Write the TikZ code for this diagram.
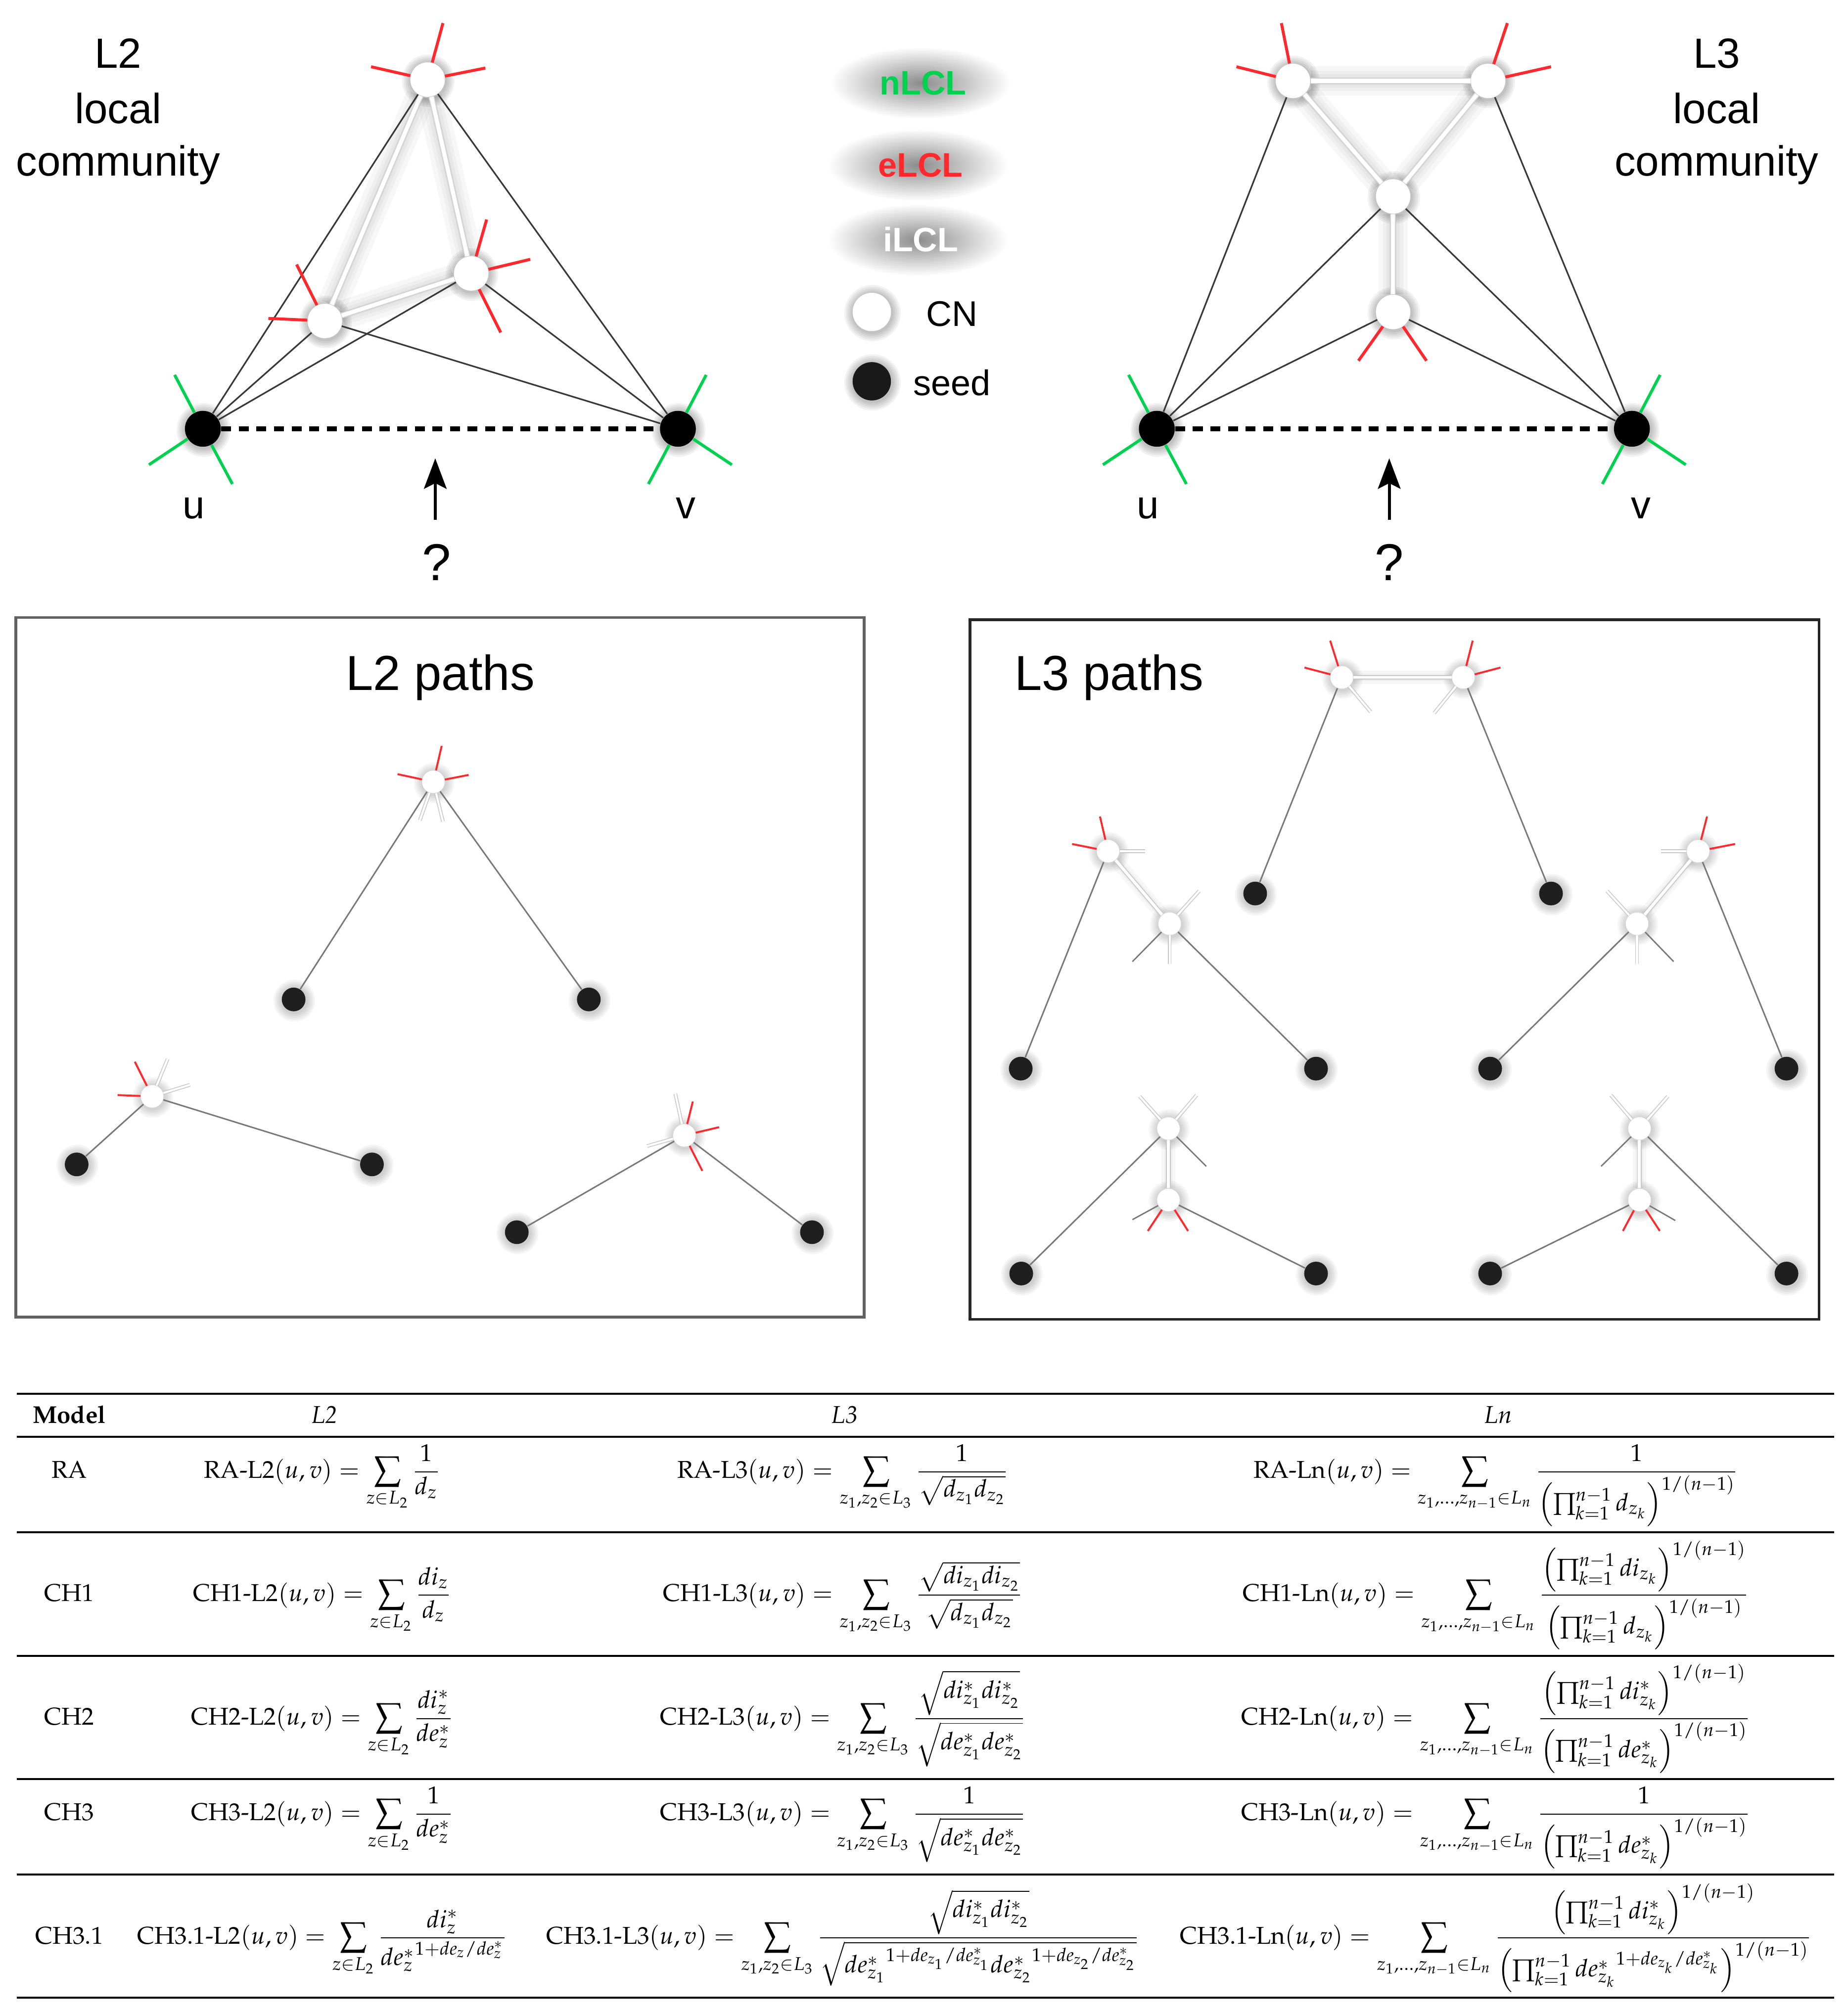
\documentclass[tikz,border=0pt]{standalone}
\usepackage{mathpazo}
\usepackage[no-math]{fontspec}
\setmainfont{Liberation Sans}
\usetikzlibrary{arrows.meta,fadings,calc}
\pgfdeclarelayer{back}
\pgfdeclarelayer{bg}
\pgfsetlayers{back,bg,main}
\definecolor{spred}{RGB}{255,40,45}
\definecolor{spgreen}{RGB}{0,210,80}
\definecolor{pathgray}{RGB}{120,120,120}
\tikzfading[name=glowfade, inner color=transparent!0, outer color=transparent!100]
\newcommand\palr{\fontencoding{OT1}\fontfamily{ppl}\selectfont}
\newcommand\tx[1]{\mbox{\palr #1}}
\newcommand\fs[1]{\fontsize{#1}{#1}\selectfont}
\newcommand\uv{{\left(u,v\right)}}
\newcommand\Lsum{\sum_{z\in L_2}}
\newcommand\Tsum{\sum_{z_1,z_2\in L_3}}
\newcommand\Nsum{\sum_{z_1,\ldots,z_{n-1}\in L_n}}
\newcommand\Pp[1]{\left(\prod_{k=1}^{n-1} #1\right)^{1/(n-1)}}
\newcommand\spk[5]{\coordinate (#3) at (#4,#5);\begin{pgfonlayer}{bg}\draw[#1] (#2) -- (#3);\end{pgfonlayer}}
\newcommand\bed[3]{\begin{pgfonlayer}{bg}\draw[#1] (#2) -- (#3);\end{pgfonlayer}}
\newcommand\wedg[2]{\begin{pgfonlayer}{bg}\foreach \hw in {13,9,6,3.5}{\draw[halo=\hw pt] (#1) -- (#2);}\draw[wline] (#1) -- (#2);\end{pgfonlayer}}
\newcommand\pwedg[2]{\begin{pgfonlayer}{bg}\draw[halo=6pt] (#1) -- (#2);\draw[halo=3.5pt] (#1) -- (#2);\draw[pwline] (#1) -- (#2);\end{pgfonlayer}}
\newcommand\shd[3]{\begin{pgfonlayer}{bg}\foreach \sr in {1,...,5}{\fill[black,opacity=#3] ([xshift=0.3pt,yshift=-0.5pt]#1.center) circle[radius=#2+\sr*0.8pt];}\end{pgfonlayer}}
\newcommand\glowlab[5]{\begin{pgfonlayer}{bg}\fill[black,opacity=0.45,path fading=glowfade] ($(#2,#3)+(-2,-9)$) ellipse[x radius=70, y radius=28];\end{pgfonlayer}\node[lgtext,text=#4] (#1) at (#2,#3) {#5};}
\begin{document}
\begin{tikzpicture}[x=0.02cm,y=-0.02cm,
  cn/.style={circle,fill=white,inner sep=0pt,minimum size=15.3pt},
  seed/.style={circle,fill=black,inner sep=0pt,minimum size=15.9pt},
  lcn/.style={circle,fill=white,inner sep=0pt,minimum size=17pt},
  lseed/.style={circle,fill=black!90,inner sep=0pt,minimum size=17pt},
  scn/.style={circle,fill=white,inner sep=0pt,minimum size=10pt},
  sseed/.style={circle,fill=black!88,inner sep=0pt,minimum size=10.5pt},
  bedge/.style={black!78,line width=0.7pt},
  halo/.style={black,opacity=0.032,line width=#1},
  wline/.style={draw=black!18,line width=0.45pt,double=white,double distance=1.8pt},
  pwline/.style={draw=black!22,line width=0.4pt,double=white,double distance=1.3pt},
  rsp/.style={spred,line width=1.3pt},
  gsp/.style={spgreen,line width=1.3pt},
  pedge/.style={pathgray,line width=0.65pt},
  srsp/.style={spred,line width=0.85pt},
  swsp/.style={draw=black!22,line width=0.35pt,double=white,double distance=0.9pt},
  sgsp/.style={pathgray,line width=0.6pt},
  dotline/.style={black,line width=2pt,dash pattern=on 4.4pt off 3.4pt},
  qarrow/.style={black,line width=1.3pt,-{Stealth[length=13.5pt,width=10pt,inset=2.5pt]}},
  lab/.style={anchor=base,inner sep=0pt,font=\fs{18.7}},
  ulab/.style={anchor=base,inner sep=0pt,font=\fs{17.5}},
  qlab/.style={anchor=base,inner sep=0pt,font=\fs{23}},
  lgtext/.style={anchor=base,inner sep=0pt,font=\bfseries\fs{15}},
  ptitle/.style={anchor=base,inner sep=0pt,font=\fs{21.8}},
  tcell/.style={anchor=base,inner sep=0pt,font=\fontsize{10.8}{13}\palr},
  trule/.style={black,line width=0.9pt}]
\begin{pgfonlayer}{back}\fill[white] (0,0) rectangle (1439,1568);\end{pgfonlayer}
\useasboundingbox (0,0) rectangle (1439,1568);

% ================= top left: L2 local community
\node[lab] (l2a) at (92,53) {L2};
\node[lab] (l2b) at (92,96) {local};
\node[lab] (l2c) at (92,137) {community};
\node[cn] (T) at (333,62) {};
\node[cn] (R) at (367,213) {};
\node[cn] (M) at (253,250) {};
\node[seed] (U1) at (158,334) {};
\node[seed] (V1) at (528,334) {};
\shd{T}{7.65pt}{0.05}\shd{R}{7.65pt}{0.05}\shd{M}{7.65pt}{0.05}
\shd{U1}{7.95pt}{0.05}\shd{V1}{7.95pt}{0.05}
\wedg{T}{M}\wedg{T}{R}\wedg{M}{R}
\bed{bedge}{U1}{T}\bed{bedge}{U1}{M}\bed{bedge}{U1}{R}
\bed{bedge}{V1}{T}\bed{bedge}{V1}{M}\bed{bedge}{V1}{R}
\bed{dotline}{U1}{V1}
\spk{rsp}{T}{Ts1}{345}{18}\spk{rsp}{T}{Ts2}{289}{52}\spk{rsp}{T}{Ts3}{378}{53}
\spk{rsp}{R}{Rs1}{379}{171}\spk{rsp}{R}{Rs2}{413}{202}\spk{rsp}{R}{Rs3}{390}{259}
\spk{rsp}{M}{Ms1}{231}{206}\spk{rsp}{M}{Ms2}{209}{248}
\spk{gsp}{U1}{U1s1}{136}{292}\spk{gsp}{U1}{U1s2}{116}{362}\spk{gsp}{U1}{U1s3}{181}{377}
\spk{gsp}{V1}{V1s1}{550}{292}\spk{gsp}{V1}{V1s2}{570}{362}\spk{gsp}{V1}{V1s3}{505}{377}
\node[ulab] (u1) at (151,404) {u};
\node[ulab] (v1) at (534,404) {v};
\node[qlab] (q1) at (340,452) {?};
\coordinate (q1s) at (339,405); \coordinate (q1e) at (339,357);
\draw[qarrow] (q1s) -- (q1e);

% ================= legend
\glowlab{nl}{719}{73.7}{spgreen}{nLCL}
\glowlab{el}{717}{137.6}{spred}{eLCL}
\glowlab{il}{717}{196}{white}{iLCL}
\node[lcn] (lc) at (679,243) {};
\node[lseed] (ls) at (679,297) {};
\shd{lc}{8.5pt}{0.05}\shd{ls}{8.5pt}{0.05}
\node[anchor=base west,inner sep=0pt,font=\fs{15.8}] (lct) at (721,254) {CN};
\node[anchor=base west,inner sep=0pt,font=\fs{15.8}] (lst) at (711,308) {seed};

% ================= top right: L3 local community
\node[lab] (l3a) at (1337,53) {L3};
\node[lab] (l3b) at (1337,96) {local};
\node[lab] (l3c) at (1337,137) {community};
\node[cn] (A) at (1007,63) {};
\node[cn] (B) at (1159,63) {};
\node[cn] (C) at (1085,153) {};
\node[cn] (D) at (1085,243) {};
\node[seed] (U2) at (901,334) {};
\node[seed] (V2) at (1271,334) {};
\shd{A}{7.65pt}{0.05}\shd{B}{7.65pt}{0.05}\shd{C}{7.65pt}{0.05}\shd{D}{7.65pt}{0.05}
\shd{U2}{7.95pt}{0.05}\shd{V2}{7.95pt}{0.05}
\wedg{A}{B}\wedg{A}{C}\wedg{B}{C}\wedg{C}{D}
\bed{bedge}{U2}{A}\bed{bedge}{U2}{C}\bed{bedge}{U2}{D}
\bed{bedge}{V2}{B}\bed{bedge}{V2}{C}\bed{bedge}{V2}{D}
\bed{dotline}{U2}{V2}
\spk{rsp}{A}{As1}{998}{18}\spk{rsp}{A}{As2}{963}{52}
\spk{rsp}{B}{Bs1}{1174}{18}\spk{rsp}{B}{Bs2}{1208}{52}
\spk{rsp}{D}{Ds1}{1058}{281}\spk{rsp}{D}{Ds2}{1111}{281}
\spk{gsp}{U2}{U2s1}{879}{292}\spk{gsp}{U2}{U2s2}{859}{362}\spk{gsp}{U2}{U2s3}{924}{377}
\spk{gsp}{V2}{V2s1}{1293}{292}\spk{gsp}{V2}{V2s2}{1313}{362}\spk{gsp}{V2}{V2s3}{1248}{377}
\node[ulab] (u2) at (894,404) {u};
\node[ulab] (v2) at (1278,404) {v};
\node[qlab] (q2) at (1082,452) {?};
\coordinate (q2s) at (1082,405); \coordinate (q2e) at (1082,357);
\draw[qarrow] (q2s) -- (q2e);

% ================= L2 paths panel
\draw[black!62,line width=1.25pt] (12.4,481) rectangle (673,1026);
\node[ptitle] (t2) at (343,537.7) {L2 paths};
\node[scn] (p1c) at (337.5,609) {};
\node[sseed] (p1a) at (228.7,778.5) {};
\node[sseed] (p1b) at (458.6,778.5) {};
\node[scn] (p2c) at (118.5,854) {};
\node[sseed] (p2a) at (59.7,907) {};
\node[sseed] (p2b) at (289.7,907) {};
\node[scn] (p3c) at (533,884.4) {};
\node[sseed] (p3a) at (402.5,959.8) {};
\node[sseed] (p3b) at (632.4,959.8) {};
\foreach \n in {p1c,p2c,p3c}{\shd{\n}{5pt}{0.035}}
\foreach \n in {p1a,p1b,p2a,p2b,p3a,p3b}{\shd{\n}{5.25pt}{0.04}}
\bed{pedge}{p1a}{p1c}\bed{pedge}{p1c}{p1b}
\bed{pedge}{p2a}{p2c}\bed{pedge}{p2c}{p2b}
\bed{pedge}{p3a}{p3c}\bed{pedge}{p3c}{p3b}
\spk{srsp}{p1c}{p1r1}{344}{581}\spk{srsp}{p1c}{p1r2}{309.6}{603}\spk{srsp}{p1c}{p1r3}{365}{603.6}
\spk{swsp}{p1c}{p1w1}{327}{639}\spk{swsp}{p1c}{p1w2}{345}{640}
\spk{srsp}{p2c}{p2r1}{105}{827}\spk{srsp}{p2c}{p2r2}{91.6}{853}
\spk{swsp}{p2c}{p2w1}{130.5}{825}\spk{swsp}{p2c}{p2w2}{148}{845}
\spk{srsp}{p3c}{p3r1}{539.6}{858}\spk{srsp}{p3c}{p3r2}{560}{878}\spk{srsp}{p3c}{p3r3}{547}{912}
\spk{swsp}{p3c}{p3w1}{526}{852}\spk{swsp}{p3c}{p3w2}{504}{892.7}

% ================= L3 paths panel
\draw[black!85,line width=1.2pt] (755.4,482.7) rectangle (1416.8,1027.7);
\node[ptitle,anchor=base west] (t3) at (790,537.7) {L3 paths};
\node[scn] (a1) at (1045,527.6) {};
\node[scn] (a2) at (1139.7,527.6) {};
\node[sseed] (qa) at (977.6,696) {};
\node[sseed] (qb) at (1208,696) {};
\node[scn] (b1) at (863,663) {};
\node[scn] (b2) at (911,719.5) {};
\node[sseed] (qc) at (795,832.4) {};
\node[sseed] (qd) at (1025,832.4) {};
\node[scn] (c1) at (1322.6,663) {};
\node[scn] (c2) at (1275,719.5) {};
\node[sseed] (qe) at (1160.6,832.4) {};
\node[sseed] (qf) at (1391.4,832.4) {};
\node[scn] (d1) at (910,879) {};
\node[scn] (d2) at (910,934.7) {};
\node[sseed] (qg) at (795.4,992) {};
\node[sseed] (qh) at (1025,992) {};
\node[scn] (e1) at (1276.9,879) {};
\node[scn] (e2) at (1276.9,934.7) {};
\node[sseed] (qi) at (1160.6,992) {};
\node[sseed] (qj) at (1391.4,992) {};
\foreach \n in {a1,a2,b1,b2,c1,c2,d1,d2,e1,e2}{\shd{\n}{5pt}{0.035}}
\foreach \n in {qa,qb,qc,qd,qe,qf,qg,qh,qi,qj}{\shd{\n}{5.25pt}{0.04}}
\bed{pedge}{qa}{a1}\pwedg{a1}{a2}\bed{pedge}{a2}{qb}
\bed{pedge}{qc}{b1}\pwedg{b1}{b2}\bed{pedge}{b2}{qd}
\bed{pedge}{qf}{c1}\pwedg{c1}{c2}\bed{pedge}{c2}{qe}
\bed{pedge}{qg}{d1}\pwedg{d1}{d2}\bed{pedge}{d2}{qh}
\bed{pedge}{qj}{e1}\pwedg{e1}{e2}\bed{pedge}{e2}{qi}
\spk{srsp}{a1}{a1r1}{1036}{499}\spk{srsp}{a1}{a1r2}{1016}{520}\spk{swsp}{a1}{a1w1}{1067.5}{554.5}
\spk{srsp}{a2}{a2r1}{1147}{499}\spk{srsp}{a2}{a2r2}{1168.6}{520}\spk{swsp}{a2}{a2w1}{1117}{555.5}
\spk{srsp}{b1}{b1r1}{856.7}{636}\spk{srsp}{b1}{b1r2}{835}{657.4}\spk{swsp}{b1}{b1w1}{892}{663}
\spk{swsp}{b2}{b2w1}{934}{694}\spk{swsp}{b2}{b2w2}{911}{750.8}\spk{sgsp}{b2}{b2g1}{882}{749}
\spk{srsp}{c1}{c1r1}{1329.5}{636}\spk{srsp}{c1}{c1r2}{1351.4}{657.4}\spk{swsp}{c1}{c1w1}{1293.7}{663}
\spk{swsp}{c2}{c2w1}{1251.6}{694}\spk{swsp}{c2}{c2w2}{1275}{750.8}\spk{sgsp}{c2}{c2g1}{1303.5}{749}
\spk{swsp}{d1}{d1w1}{887.6}{854}\spk{swsp}{d1}{d1w2}{932}{853}\spk{sgsp}{d1}{d1g1}{939.5}{908.5}
\spk{srsp}{d2}{d2r1}{894}{958.8}\spk{srsp}{d2}{d2r2}{925.3}{958.8}\spk{sgsp}{d2}{d2g1}{882}{950}
\spk{swsp}{e1}{e1w1}{1254.6}{853}\spk{swsp}{e1}{e1w2}{1299}{854}\spk{sgsp}{e1}{e1g1}{1247}{908.5}
\spk{srsp}{e2}{e2r1}{1264}{958.8}\spk{srsp}{e2}{e2r2}{1292.7}{958.8}\spk{sgsp}{e2}{e2g1}{1304.8}{950.7}

% ================= table
\foreach \yy in {1085.8,1119,1193.6,1289.8,1385.7,1460,1556}{\draw[trule] (13,\yy) -- (1428.7,\yy);}
\node[tcell,font=\fontsize{10.8}{13}\palr\bfseries] (hm) at (54,1108.6) {Model};
\node[tcell,font=\fontsize{10.8}{13}\palr\itshape] (h2) at (252.8,1108.6) {L2};
\node[tcell,font=\fontsize{10.8}{13}\palr\itshape] (h3) at (658,1108.6) {L3};
\node[tcell,font=\fontsize{10.8}{13}\palr\itshape] (hn) at (1167,1108.6) {Ln};
% RA
\node[tcell] (m1) at (54,1151.2) {RA};
\node[tcell] (f12) at (251,1151.2) {$\displaystyle \tx{RA-L2}\uv=\Lsum\frac{1}{d_z}$};
\node[tcell] (f13) at (656.5,1151.2) {$\displaystyle \tx{RA-L3}\uv=\Tsum\frac{1}{\sqrt{d_{z_1}d_{z_2}}}$};
\node[tcell] (f1n) at (1165,1151.2) {$\displaystyle \tx{RA-Ln}\uv=\Nsum\frac{1}{\Pp{d_{z_k}}}$};
% CH1
\node[tcell] (m2) at (54,1247.3) {CH1};
\node[tcell] (f22) at (251,1247.3) {$\displaystyle \tx{CH1-L2}\uv=\Lsum\frac{di_z}{d_z}$};
\node[tcell] (f23) at (656.5,1247.3) {$\displaystyle \tx{CH1-L3}\uv=\Tsum\frac{\sqrt{di_{z_1}di_{z_2}}}{\sqrt{d_{z_1}d_{z_2}}}$};
\node[tcell] (f2n) at (1165,1247.3) {$\displaystyle \tx{CH1-Ln}\uv=\Nsum\frac{\Pp{di_{z_k}}}{\Pp{d_{z_k}}}$};
% CH2
\node[tcell] (m3) at (54,1343.4) {CH2};
\node[tcell] (f32) at (251,1343.4) {$\displaystyle \tx{CH2-L2}\uv=\Lsum\frac{di^*_z}{de^*_z}$};
\node[tcell] (f33) at (656.5,1343.4) {$\displaystyle \tx{CH2-L3}\uv=\Tsum\frac{\sqrt{di^*_{z_1}di^*_{z_2}}}{\sqrt{de^*_{z_1}de^*_{z_2}}}$};
\node[tcell] (f3n) at (1165,1343.4) {$\displaystyle \tx{CH2-Ln}\uv=\Nsum\frac{\Pp{di^*_{z_k}}}{\Pp{de^*_{z_k}}}$};
% CH3
\node[tcell] (m4) at (54,1417.8) {CH3};
\node[tcell] (f42) at (251,1417.8) {$\displaystyle \tx{CH3-L2}\uv=\Lsum\frac{1}{de^*_z}$};
\node[tcell] (f43) at (656.5,1417.8) {$\displaystyle \tx{CH3-L3}\uv=\Tsum\frac{1}{\sqrt{de^*_{z_1}de^*_{z_2}}}$};
\node[tcell] (f4n) at (1165,1417.8) {$\displaystyle \tx{CH3-Ln}\uv=\Nsum\frac{1}{\Pp{de^*_{z_k}}}$};
% CH3.1
\node[tcell] (m5) at (54,1514.2) {CH3.1};
\node[tcell] (f52) at (251,1514.2) {$\displaystyle \tx{CH3.1-L2}\uv=\Lsum\frac{di^*_z}{{de^*_z}^{1+de_z/de^*_z}}$};
\node[tcell] (f53) at (656.5,1514.2) {$\displaystyle \tx{CH3.1-L3}\uv=\Tsum\frac{\sqrt{di^*_{z_1}di^*_{z_2}}}{\sqrt{{de^*_{z_1}}^{1+de_{z_1}/de^*_{z_1}}{de^*_{z_2}}^{1+de_{z_2}/de^*_{z_2}}}}$};
\node[tcell] (f5n) at (1165,1514.2) {$\displaystyle \tx{CH3.1-Ln}\uv=\Nsum\frac{\Pp{di^*_{z_k}}}{\Pp{{de^*_{z_k}}^{1+de_{z_k}/de^*_{z_k}}}}$};
\end{tikzpicture}
\end{document}
